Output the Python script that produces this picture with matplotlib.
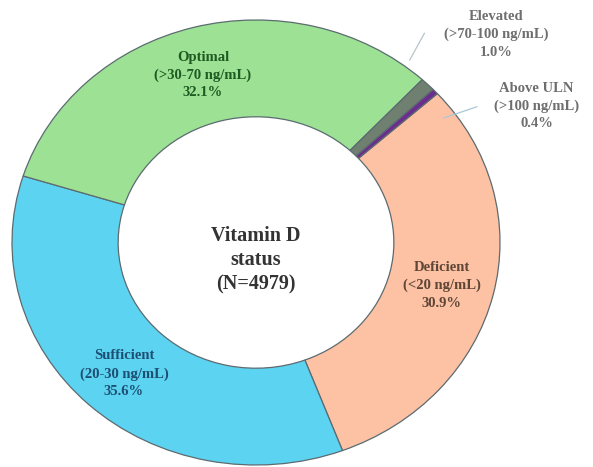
import matplotlib
matplotlib.use('Agg')
from matplotlib import pyplot as plt

# vitamin D status categories, clockwise from the top right
categories = ['Deficient', 'Sufficient', 'Optimal', 'Elevated', 'Above ULN']
ranges = ['(<20 ng/mL)', '(20-30 ng/mL)', '(>30-70 ng/mL)', '(>70-100 ng/mL)', '(>100 ng/mL)']
percents = [30.9, 35.6, 32.1, 1.0, 0.4]

colors = ['#FDC1A4', '#5DD3F2', '#9CE194', '#6F8070', '#6B2D8E']
text_colors = ['#5E4636', '#1C4F72', '#1E5A22', '#6E6E6E', '#6E6E6E']

fig = plt.figure(figsize=(5.93, 4.67), dpi=100)
ax = fig.add_axes([12 / 593, 2 / 467, 488 / 593, 445 / 467])

wedges, _ = ax.pie(percents, colors=colors, startangle=42, counterclock=False,
                   radius=1.0, wedgeprops=dict(width=0.435, edgecolor='#5C6B70', linewidth=0.9))
ax.set_aspect('auto')
ax.set_xlim(-1, 1)
ax.set_ylim(-1, 1)

font = dict(family='Liberation Serif', fontweight='bold', ha='center', va='center',
            fontsize=10.5, linespacing=1.45)

# label positions in axes data units (ring is stretched to the picture)
label_xy = [(0.762, -0.194), (-0.541, -0.59), (-0.217, 0.752), (0.985, 0.935), (1.15, 0.613)]
for cat, rng, pct, xy, tc in zip(categories, ranges, percents, label_xy, text_colors):
    ax.text(xy[0], xy[1], f'{cat}\n{rng}\n{pct:.1f}%', color=tc, clip_on=False, **font)

# leader lines for the two thin slices
ax.plot([0.69, 0.63], [0.94, 0.82], color='#B8C4C8', lw=0.9, clip_on=False)
ax.plot([0.905, 0.77], [0.61, 0.56], color='#A8C8D8', lw=0.9, clip_on=False)

ax.text(0.0, -0.08, 'Vitamin D\nstatus\n(N=4979)', color='#333333',
        family='Liberation Serif', fontweight='bold', ha='center', va='center',
        fontsize=14.5, linespacing=1.3)

fig.savefig('out.png', dpi=100)
